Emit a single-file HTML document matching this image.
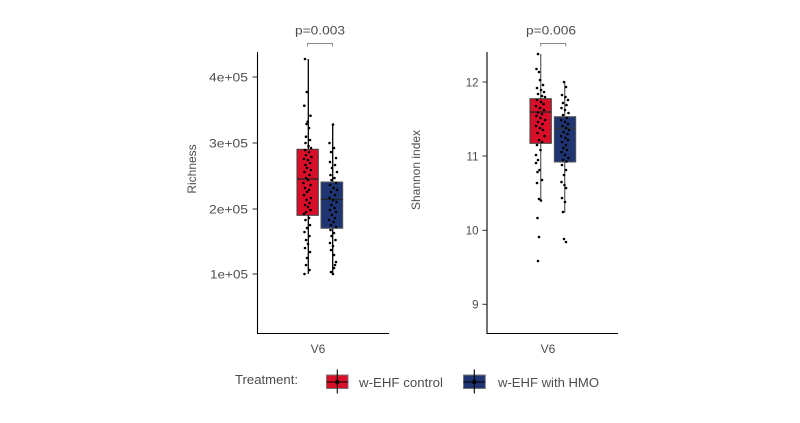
<!DOCTYPE html>
<html><head><meta charset="utf-8"><style>
html,body{margin:0;padding:0;background:#fff;}
svg{display:block;}
text{font-family:"Liberation Sans",sans-serif;fill:#4d4d4d;}
</style></head><body>
<svg width="800" height="423" viewBox="0 0 800 423" xmlns="http://www.w3.org/2000/svg">
<rect width="800" height="423" fill="#fff"/>

<!-- LEFT PANEL -->
<g>
<!-- axes -->
<line x1="257.5" y1="52" x2="257.5" y2="333.5" stroke="#000" stroke-width="1.1"/>
<line x1="257" y1="333.5" x2="389" y2="333.5" stroke="#000" stroke-width="1.1"/>
<!-- ticks -->
<g stroke="#333" stroke-width="1">
<line x1="252.5" y1="77" x2="257" y2="77"/>
<line x1="252.5" y1="143" x2="257" y2="143"/>
<line x1="252.5" y1="209" x2="257" y2="209"/>
<line x1="252.5" y1="274" x2="257" y2="274"/>
</g>
<g font-size="11.5">
<text x="209" y="81.3" textLength="39" lengthAdjust="spacingAndGlyphs">4e+05</text>
<text x="209" y="147.3" textLength="39" lengthAdjust="spacingAndGlyphs">3e+05</text>
<text x="209" y="213.3" textLength="39" lengthAdjust="spacingAndGlyphs">2e+05</text>
<text x="210" y="278.3" textLength="38" lengthAdjust="spacingAndGlyphs">1e+05</text>
</g>
<text transform="translate(196,169) rotate(-90)" text-anchor="middle" font-size="12">Richness</text>
<text x="318" y="353" text-anchor="middle" font-size="12">V6</text>
<!-- bracket -->
<path d="M307.5,46.5 V43.5 H332.5 V46.5" fill="none" stroke="#888" stroke-width="1"/>
<text x="320" y="34.5" text-anchor="middle" font-size="12" textLength="50" lengthAdjust="spacingAndGlyphs">p=0.003</text>
<!-- whiskers -->
<line x1="308.3" y1="59" x2="308.3" y2="274" stroke="#000" stroke-width="1.3"/>
<line x1="332.7" y1="124" x2="332.7" y2="273.5" stroke="#000" stroke-width="1.3"/>
<!-- boxes -->
<rect x="297" y="149.3" width="21.3" height="66" fill="#d90f29" stroke="#3a3a3a" stroke-width="1"/>
<line x1="297" y1="179" x2="318.3" y2="179" stroke="#222" stroke-width="1.2"/>
<rect x="321" y="182" width="21.7" height="46.3" fill="#1f3572" stroke="#555" stroke-width="1"/>
<line x1="321" y1="199.3" x2="342.7" y2="199.3" stroke="#222" stroke-width="1.2"/>
<!-- points red -->
<g fill="#000">
<circle cx="305" cy="59" r="1.3"/><circle cx="306.7" cy="92" r="1.3"/><circle cx="304.3" cy="105.7" r="1.3"/><circle cx="310.5" cy="115.7" r="1.3"/><circle cx="307.7" cy="121.7" r="1.3"/><circle cx="306.5" cy="124" r="1.3"/><circle cx="309" cy="128" r="1.3"/><circle cx="306" cy="136.7" r="1.3"/><circle cx="310" cy="140" r="1.3"/><circle cx="305.5" cy="143" r="1.3"/><circle cx="308.5" cy="146" r="1.3"/><circle cx="311" cy="148" r="1.3"/>
<circle cx="305" cy="150" r="1.3"/><circle cx="309" cy="152" r="1.3"/><circle cx="306" cy="155" r="1.3"/><circle cx="311.5" cy="157" r="1.3"/><circle cx="304" cy="159" r="1.3"/><circle cx="308" cy="160" r="1.3"/><circle cx="310" cy="163" r="1.3"/><circle cx="305.5" cy="165" r="1.3"/><circle cx="307" cy="168" r="1.3"/><circle cx="311" cy="170" r="1.3"/><circle cx="304.5" cy="172" r="1.3"/><circle cx="309.5" cy="175" r="1.3"/><circle cx="306" cy="178" r="1.3"/><circle cx="308" cy="180" r="1.3"/><circle cx="303.5" cy="183" r="1.3"/><circle cx="310.5" cy="185" r="1.3"/><circle cx="305" cy="188" r="1.3"/><circle cx="309" cy="190" r="1.3"/><circle cx="307" cy="192" r="1.3"/><circle cx="304" cy="195" r="1.3"/><circle cx="311" cy="198" r="1.3"/><circle cx="306.5" cy="200" r="1.3"/><circle cx="309.5" cy="203" r="1.3"/><circle cx="305" cy="205" r="1.3"/><circle cx="308" cy="207" r="1.3"/><circle cx="310.5" cy="210" r="1.3"/><circle cx="306" cy="212" r="1.3"/><circle cx="304" cy="214" r="1.3"/>
<circle cx="309" cy="218" r="1.3"/><circle cx="305.5" cy="220" r="1.3"/><circle cx="310" cy="225" r="1.3"/><circle cx="307" cy="228" r="1.3"/><circle cx="304.5" cy="232" r="1.3"/><circle cx="309.5" cy="236" r="1.3"/><circle cx="306" cy="240" r="1.3"/><circle cx="308" cy="244" r="1.3"/><circle cx="305" cy="248" r="1.3"/><circle cx="310" cy="252" r="1.3"/><circle cx="307" cy="258" r="1.3"/><circle cx="306" cy="265" r="1.3"/><circle cx="309.5" cy="270" r="1.3"/><circle cx="304.5" cy="274" r="1.3"/>
</g>
<!-- points blue -->
<g fill="#000">
<circle cx="333" cy="124.5" r="1.3"/><circle cx="329.5" cy="143" r="1.3"/><circle cx="334" cy="148" r="1.3"/><circle cx="331" cy="152" r="1.3"/><circle cx="336" cy="158" r="1.3"/><circle cx="330" cy="162" r="1.3"/><circle cx="335" cy="165" r="1.3"/><circle cx="332" cy="168" r="1.3"/><circle cx="337" cy="172" r="1.3"/><circle cx="330.5" cy="175" r="1.3"/><circle cx="334.5" cy="178" r="1.3"/><circle cx="331.5" cy="180" r="1.3"/>
<circle cx="336" cy="183" r="1.3"/><circle cx="330" cy="185" r="1.3"/><circle cx="333.5" cy="188" r="1.3"/><circle cx="337" cy="190" r="1.3"/><circle cx="331" cy="192" r="1.3"/><circle cx="335" cy="195" r="1.3"/><circle cx="329.5" cy="198" r="1.3"/><circle cx="333" cy="200" r="1.3"/><circle cx="336.5" cy="202" r="1.3"/><circle cx="331.5" cy="205" r="1.3"/><circle cx="334.5" cy="208" r="1.3"/><circle cx="330" cy="210" r="1.3"/><circle cx="336" cy="212" r="1.3"/><circle cx="332" cy="215" r="1.3"/><circle cx="335" cy="218" r="1.3"/><circle cx="329" cy="220" r="1.3"/><circle cx="333.5" cy="222" r="1.3"/><circle cx="331" cy="225" r="1.3"/><circle cx="336" cy="227" r="1.3"/>
<circle cx="330.5" cy="230" r="1.3"/><circle cx="334" cy="233" r="1.3"/><circle cx="331.5" cy="236" r="1.3"/><circle cx="335.5" cy="240" r="1.3"/><circle cx="330" cy="243" r="1.3"/><circle cx="333" cy="246" r="1.3"/><circle cx="331" cy="250" r="1.3"/><circle cx="334" cy="255" r="1.3"/><circle cx="336" cy="262" r="1.3"/><circle cx="335" cy="265" r="1.3"/><circle cx="334" cy="268" r="1.3"/><circle cx="331" cy="272" r="1.3"/><circle cx="333" cy="274" r="1.3"/>
</g>
</g>

<!-- RIGHT PANEL -->
<g>
<line x1="487" y1="52" x2="487" y2="333.5" stroke="#000" stroke-width="1.1"/>
<line x1="486.5" y1="333.5" x2="618" y2="333.5" stroke="#000" stroke-width="1.1"/>
<g stroke="#333" stroke-width="1">
<line x1="482.5" y1="82" x2="487" y2="82"/>
<line x1="482.5" y1="156" x2="487" y2="156"/>
<line x1="482.5" y1="230.3" x2="487" y2="230.3"/>
<line x1="482.5" y1="304.3" x2="487" y2="304.3"/>
</g>
<g font-size="11.5" text-anchor="end">
<text x="478.5" y="86.3">12</text>
<text x="478.5" y="160.3">11</text>
<text x="478.5" y="234.6">10</text>
<text x="478.5" y="308.6">9</text>
</g>
<text transform="translate(420,170) rotate(-90)" text-anchor="middle" font-size="12">Shannon index</text>
<text x="548" y="353" text-anchor="middle" font-size="12">V6</text>
<path d="M540.7,46.5 V43.5 H565.7 V46.5" fill="none" stroke="#888" stroke-width="1"/>
<text x="551" y="34.5" text-anchor="middle" font-size="12" textLength="50" lengthAdjust="spacingAndGlyphs">p=0.006</text>
<line x1="540.7" y1="54" x2="540.7" y2="200" stroke="#666" stroke-width="1.3"/>
<line x1="564.7" y1="81.7" x2="564.7" y2="212.7" stroke="#666" stroke-width="1.3"/>
<rect x="530" y="98.7" width="21.3" height="44.6" fill="#d90f29" stroke="#3a3a3a" stroke-width="1"/>
<line x1="530" y1="112" x2="551.3" y2="112" stroke="#222" stroke-width="1.2"/>
<rect x="554.3" y="116.7" width="21.4" height="45.3" fill="#1f3572" stroke="#555" stroke-width="1"/>
<line x1="554.3" y1="128.3" x2="575.7" y2="128.3" stroke="#333" stroke-width="1.2"/>
<!-- red points -->
<g fill="#000">
<circle cx="538" cy="54" r="1.3"/><circle cx="536.5" cy="69" r="1.3"/><circle cx="539" cy="72" r="1.3"/><circle cx="540" cy="80" r="1.3"/><circle cx="543" cy="85" r="1.3"/><circle cx="537" cy="88" r="1.3"/><circle cx="541" cy="90" r="1.3"/><circle cx="544" cy="92" r="1.3"/><circle cx="538" cy="94" r="1.3"/><circle cx="542" cy="96" r="1.3"/><circle cx="545" cy="97" r="1.3"/>
<circle cx="537" cy="100" r="1.3"/><circle cx="541" cy="102" r="1.3"/><circle cx="543.5" cy="104" r="1.3"/><circle cx="536" cy="106" r="1.3"/><circle cx="540" cy="108" r="1.3"/><circle cx="544" cy="110" r="1.3"/><circle cx="538" cy="112.5" r="1.3"/><circle cx="542" cy="114" r="1.3"/><circle cx="536.5" cy="116" r="1.3"/><circle cx="540.5" cy="118" r="1.3"/><circle cx="545" cy="120" r="1.3"/><circle cx="538" cy="122" r="1.3"/><circle cx="542.5" cy="124" r="1.3"/><circle cx="536" cy="126" r="1.3"/><circle cx="540" cy="128" r="1.3"/><circle cx="543" cy="130" r="1.3"/><circle cx="537.5" cy="133" r="1.3"/><circle cx="544.5" cy="136" r="1.3"/><circle cx="539" cy="140" r="1.3"/><circle cx="542" cy="142" r="1.3"/>
<circle cx="537" cy="145" r="1.3"/><circle cx="540.5" cy="150" r="1.3"/><circle cx="536" cy="155" r="1.3"/><circle cx="538" cy="160" r="1.3"/><circle cx="536" cy="163" r="1.3"/><circle cx="539.5" cy="170" r="1.3"/><circle cx="537.5" cy="172" r="1.3"/><circle cx="542" cy="180" r="1.3"/><circle cx="537" cy="183" r="1.3"/><circle cx="539" cy="199" r="1.3"/><circle cx="541" cy="200.5" r="1.3"/><circle cx="537.5" cy="218" r="1.3"/><circle cx="539" cy="237" r="1.3"/><circle cx="538" cy="261" r="1.3"/>
</g>
<!-- blue points -->
<g fill="#000">
<circle cx="564" cy="82" r="1.3"/><circle cx="566" cy="87" r="1.3"/><circle cx="562" cy="95" r="1.3"/><circle cx="565.5" cy="97" r="1.3"/><circle cx="568" cy="100" r="1.3"/><circle cx="563" cy="103" r="1.3"/><circle cx="566.5" cy="105" r="1.3"/><circle cx="561.5" cy="108" r="1.3"/><circle cx="565" cy="110" r="1.3"/><circle cx="568.5" cy="113" r="1.3"/><circle cx="563" cy="115" r="1.3"/>
<circle cx="567" cy="118" r="1.3"/><circle cx="561" cy="120" r="1.3"/><circle cx="565" cy="122" r="1.3"/><circle cx="568" cy="124" r="1.3"/><circle cx="562.5" cy="126" r="1.3"/><circle cx="566" cy="128" r="1.3"/><circle cx="569" cy="130" r="1.3"/><circle cx="563.5" cy="132" r="1.3"/><circle cx="567.5" cy="134" r="1.3"/><circle cx="561" cy="136" r="1.3"/><circle cx="565.5" cy="138" r="1.3"/><circle cx="568" cy="140" r="1.3"/><circle cx="562" cy="142" r="1.3"/><circle cx="566" cy="145" r="1.3"/><circle cx="563.5" cy="148" r="1.3"/><circle cx="567" cy="150" r="1.3"/><circle cx="561.5" cy="152" r="1.3"/><circle cx="565" cy="155" r="1.3"/><circle cx="568.5" cy="158" r="1.3"/><circle cx="563" cy="160" r="1.3"/><circle cx="566.5" cy="161.5" r="1.3"/>
<circle cx="562" cy="165" r="1.3"/><circle cx="566" cy="170" r="1.3"/><circle cx="564" cy="175" r="1.3"/><circle cx="561.5" cy="182" r="1.3"/><circle cx="564.5" cy="185" r="1.3"/><circle cx="566" cy="188" r="1.3"/><circle cx="562" cy="198" r="1.3"/><circle cx="565" cy="202" r="1.3"/><circle cx="563" cy="212" r="1.3"/><circle cx="564" cy="239" r="1.3"/><circle cx="566" cy="242" r="1.3"/>
</g>
</g>

<!-- LEGEND -->
<g>
<text x="235" y="384" font-size="12.5" textLength="63" lengthAdjust="spacingAndGlyphs">Treatment:</text>
<rect x="326.5" y="375" width="21.5" height="13.5" fill="#d90f29" stroke="#777" stroke-width="1"/>
<line x1="326.5" y1="382" x2="348" y2="382" stroke="#000" stroke-width="1.1"/>
<line x1="337.3" y1="369.5" x2="337.3" y2="393.5" stroke="#000" stroke-width="1.1"/>
<circle cx="337.3" cy="382" r="2.2" fill="#000"/>
<text x="359" y="387" font-size="13" textLength="84" lengthAdjust="spacingAndGlyphs">w-EHF control</text>
<rect x="463.5" y="375" width="21.8" height="13.5" fill="#1f3572" stroke="#777" stroke-width="1"/>
<line x1="463.5" y1="382" x2="485.3" y2="382" stroke="#000" stroke-width="1.1"/>
<line x1="474.3" y1="369.5" x2="474.3" y2="393.5" stroke="#000" stroke-width="1.1"/>
<circle cx="474.3" cy="382" r="2.2" fill="#000"/>
<text x="498" y="387" font-size="13" textLength="101" lengthAdjust="spacingAndGlyphs">w-EHF with HMO</text>
</g>
</svg>
</body></html>
